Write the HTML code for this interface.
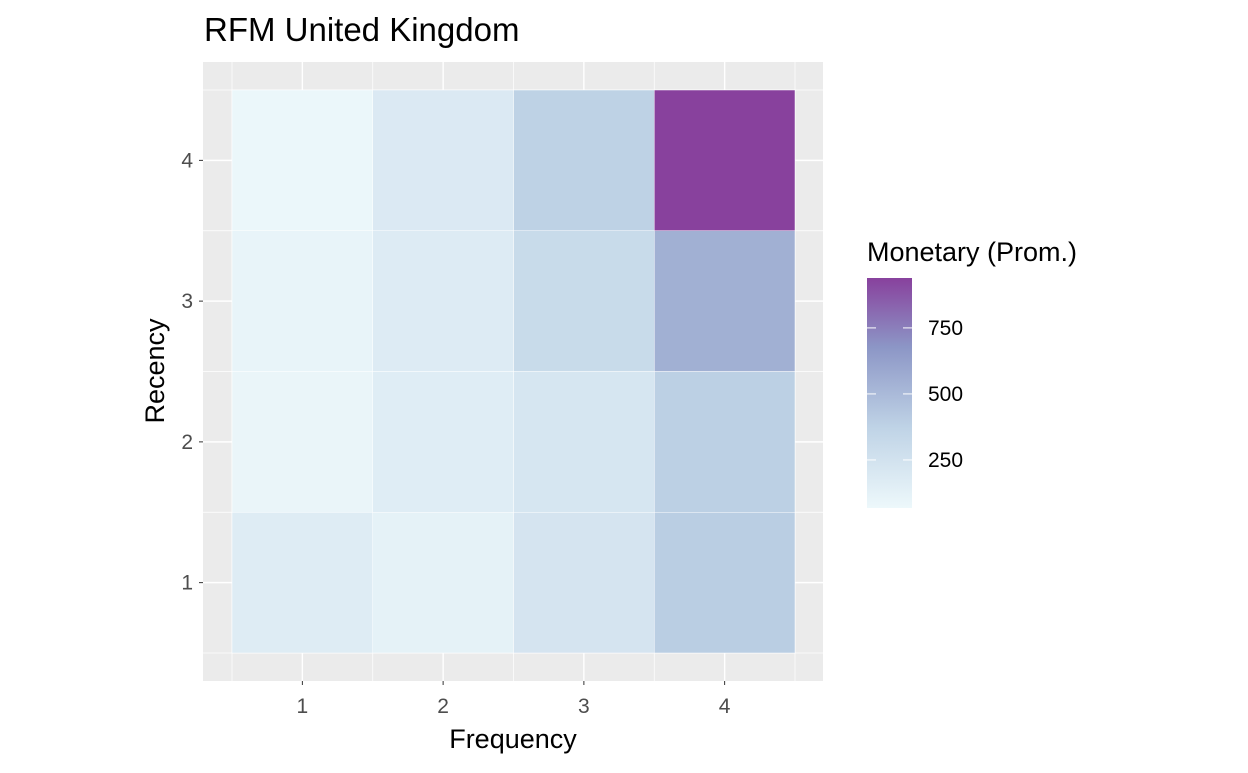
<!DOCTYPE html>
<html><head><meta charset="utf-8"><style>
body{margin:0;background:#fff;font-family:"Liberation Sans",sans-serif}
</style></head><body>
<svg id="c" width="1248" height="768" xmlns="http://www.w3.org/2000/svg"></svg>
<script>
const freqCats=[1,2,3,4];
const recCats=[1,2,3,4];
// values[recency-1][frequency-1]
const values=[
 [170,120,230,400],
 [90,160,220,390],
 [100,175,310,550],
 [80,190,380,939]
];
const legendTicks=[250,500,750];
const vMin=68,vMax=939;
const NS="http://www.w3.org/2000/svg";
const svg=document.getElementById('c');
function el(t,a,p){const e=document.createElementNS(NS,t);for(const k in a)e.setAttribute(k,a[k]);(p||svg).appendChild(e);return e;}
const px0=203,px1=823,py0=62,py1=681;
const xs=v=>232+(v-0.5)*140.75;
const ys=v=>653-(v-0.5)*140.75;
const stops=[[0,[237,248,251]],[0.35,[191,211,230]],[0.7,[140,150,198]],[1,[136,65,157]]];
function col(v){let t=(v-vMin)/(vMax-vMin);t=Math.max(0,Math.min(1,t));for(let i=1;i<stops.length;i++){if(t<=stops[i][0]){const a=stops[i-1],b=stops[i];const f=(t-a[0])/(b[0]-a[0]);const c=a[1].map((x,j)=>Math.round(x+(b[1][j]-x)*f));return `rgb(${c})`;}}}
const bg=el('rect',{x:px0,y:py0,width:px1-px0,height:py1-py0,fill:'#EBEBEB'});

for(let v=0.5;v<=4.5;v+=1){el('line',{x1:xs(v),x2:xs(v),y1:py0,y2:py1,stroke:'#fff','stroke-width':0.7});el('line',{y1:ys(v),y2:ys(v),x1:px0,x2:px1,stroke:'#fff','stroke-width':0.7});}
freqCats.forEach(f=>{el('line',{x1:xs(f),x2:xs(f),y1:py0,y2:py1,stroke:'#fff','stroke-width':1.4});
 el('line',{x1:xs(f),x2:xs(f),y1:py1,y2:py1+4,stroke:'#333','stroke-width':1});
 const t=el('text',{x:xs(f),y:713,'text-anchor':'middle','font-size':21,fill:'#4D4D4D'});t.textContent=f;
 });
recCats.forEach(r=>{el('line',{y1:ys(r),y2:ys(r),x1:px0-4,x2:px0,stroke:'#333','stroke-width':1});
 el('line',{y1:ys(r),y2:ys(r),x1:px0,x2:px1,stroke:'#fff','stroke-width':1.4});
 const t=el('text',{x:193,y:ys(r)+7,'text-anchor':'end','font-size':21,fill:'#4D4D4D'});t.textContent=r;
 });
values.forEach((row,ri)=>row.forEach((v,fi)=>{
 const r=el('rect',{x:xs(freqCats[fi]-0.5),y:ys(recCats[ri]+0.5),width:xs(1.5)-xs(0.5),height:ys(0.5)-ys(1.5),fill:col(v),stroke:'#fff','stroke-width':0.5});
 }));
let t=el('text',{x:204,y:41,'font-size':33,fill:'#000'});t.textContent='RFM United Kingdom';

t=el('text',{x:513,y:748,'text-anchor':'middle','font-size':27,fill:'#000'});t.textContent='Frequency';

t=el('text',{x:0,y:0,'text-anchor':'middle','font-size':27,fill:'#000',transform:'translate(164,371) rotate(-90)'});t.textContent='Recency';

t=el('text',{x:867,y:261,'font-size':27,fill:'#000'});t.textContent='Monetary (Prom.)';

const defs=el('defs',{});const g=el('linearGradient',{id:'lg',x1:0,y1:1,x2:0,y2:0},defs);
stops.forEach(s=>el('stop',{offset:s[0],'stop-color':`rgb(${s[1]})`},g));
const lb0=508,lb1=278;
const lr=el('rect',{x:867,y:lb1,width:45,height:lb0-lb1,fill:'url(#lg)'});

const ly=v=>lb0-(v-vMin)/(vMax-vMin)*(lb0-lb1);
legendTicks.forEach(v=>{el('line',{x1:867,x2:876,y1:ly(v),y2:ly(v),stroke:'#fff'});el('line',{x1:903,x2:912,y1:ly(v),y2:ly(v),stroke:'#fff'});
 const tt=el('text',{x:928,y:ly(v)+7,'font-size':21,fill:'#000'});tt.textContent=v;
 });
</script>
</body></html>
